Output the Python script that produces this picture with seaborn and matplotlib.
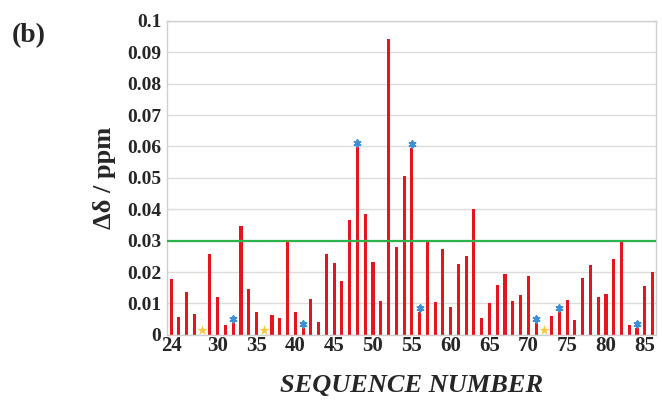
import numpy as np
import pandas as pd
import matplotlib
matplotlib.use("Agg")
import matplotlib.pyplot as plt
import seaborn as sns

# chemical shift perturbation per residue (28, 36, 72 have no bar)
residues = [24, 25, 26, 27, 29, 30, 31, 32, 33, 34, 35, 37, 38, 39, 40, 41,
            42, 43, 44, 45, 46, 47, 48, 49, 50, 51, 52, 53, 54, 55, 56, 57,
            58, 59, 60, 61, 62, 63, 64, 65, 66, 67, 68, 69, 70, 71, 73, 74,
            75, 76, 77, 78, 79, 80, 81, 82, 83, 84, 85, 86]
shifts = [0.0178, 0.0057, 0.0136, 0.0067, 0.0256, 0.0120, 0.0030, 0.0037,
          0.0348, 0.0147, 0.0073, 0.0062, 0.0053, 0.0300, 0.0073, 0.0021,
          0.0113, 0.0042, 0.0257, 0.0228, 0.0171, 0.0367, 0.0597, 0.0384,
          0.0231, 0.0108, 0.0943, 0.0281, 0.0505, 0.0596, 0.0074, 0.0296,
          0.0103, 0.0272, 0.0089, 0.0226, 0.0251, 0.0401, 0.0055, 0.0100,
          0.0160, 0.0195, 0.0109, 0.0128, 0.0187, 0.0037, 0.0059, 0.0073,
          0.0110, 0.0047, 0.0180, 0.0222, 0.0119, 0.0129, 0.0240, 0.0298,
          0.0030, 0.0022, 0.0155, 0.0201]

blue_marked = [32, 41, 48, 55, 56, 71, 74, 84]
yellow_marked = [28, 36, 72]
threshold = 0.03

xticks = [24, 30, 35, 40, 45, 50, 55, 60, 65, 70, 75, 80, 85]
yticks = [0, 0.01, 0.02, 0.03, 0.04, 0.05, 0.06, 0.07, 0.08, 0.09, 0.1]
ytick_labels = ["0", "0.01", "0.02", "0.03", "0.04", "0.05", "0.06",
                "0.07", "0.08", "0.09", "0.1"]

df = pd.DataFrame({"residue": residues, "shift": shifts})
lookup = dict(zip(residues, shifts))
blue_df = pd.DataFrame({"residue": blue_marked,
                        "y": [lookup[r] + 0.0013 for r in blue_marked]})
yellow_df = pd.DataFrame({"residue": yellow_marked,
                          "y": [0.0014] * len(yellow_marked)})

sns.set_style("white")
plt.rcParams["font.family"] = ["Liberation Serif", "DejaVu Serif"]
plt.rcParams["font.weight"] = "bold"

fig = plt.figure(figsize=(6.62, 4.01), dpi=100)
ax = fig.add_axes([0.252, 0.165, 0.739, 0.783])

ax.set_axisbelow(True)
ax.yaxis.grid(True, color="#dcdcdc", linewidth=1)

sns.barplot(data=df, x="residue", y="shift", native_scale=True,
            color="#e8141c", saturation=1, width=0.4, linewidth=0, ax=ax)

ax.axhline(threshold, color="#2db34a", linewidth=1.6, zorder=3)

sns.scatterplot(data=blue_df, x="residue", y="y", marker=(6, 2, 0),
                color="#3d8fd8", s=22, linewidth=1.4, ax=ax, zorder=4)
sns.scatterplot(data=yellow_df, x="residue", y="y", marker="*",
                color="#f6c744", s=60, linewidth=0, ax=ax, zorder=4)

ax.set_xlim(23.45, 86.45)
ax.set_ylim(0, 0.1)
ax.set_xticks(xticks)
ax.set_xticklabels([str(t) for t in xticks], fontsize=15, fontweight="bold")
ax.set_yticks(yticks)
ax.set_yticklabels(ytick_labels, fontsize=14, fontweight="bold")
ax.tick_params(length=0, pad=4)
ax.tick_params(axis="x", pad=1)

for s in ax.spines.values():
    s.set_color("#cfcfcf")
    s.set_linewidth(1)

ax.set_xlabel("SEQUENCE NUMBER", fontsize=19, fontweight="bold",
              fontstyle="italic", labelpad=13)
ax.set_ylabel("Δδ / ppm", fontsize=19, fontweight="bold", labelpad=8)

fig.text(0.018, 0.895, "(b)", fontsize=20, fontweight="bold")

fig.savefig("out.png", dpi=100)
